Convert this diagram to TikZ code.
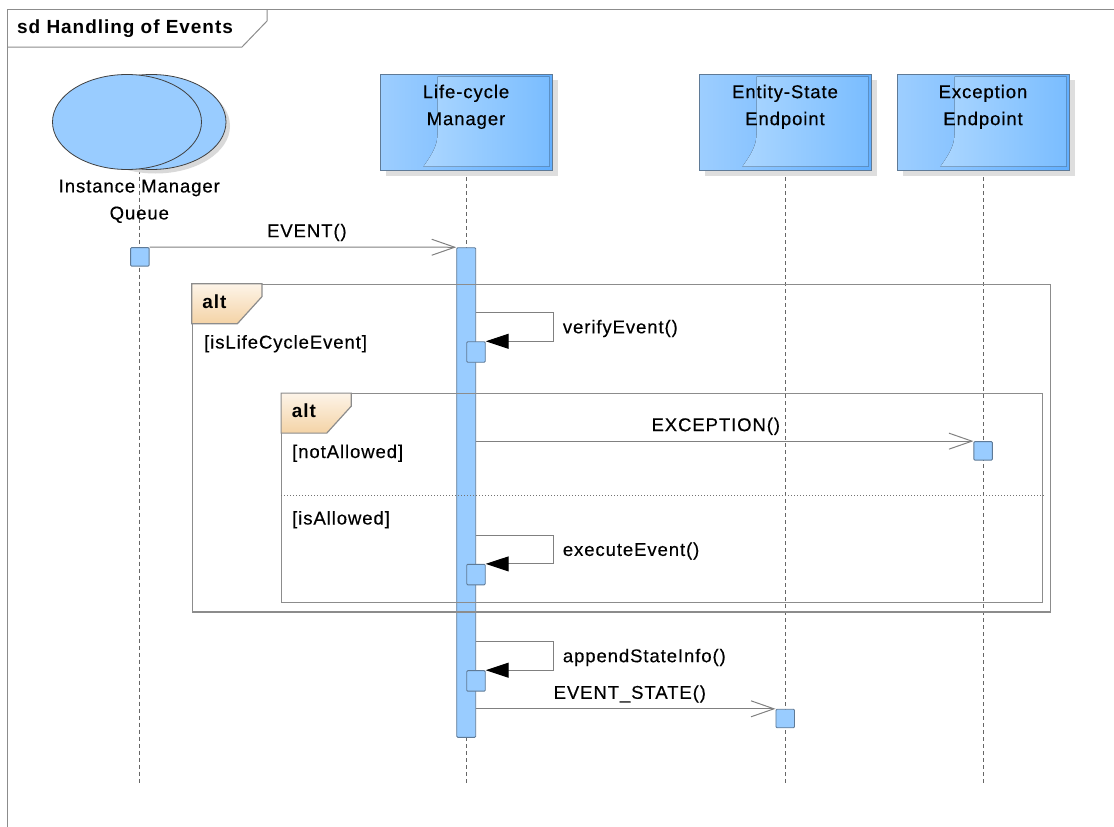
\documentclass[tikz,border=0pt]{standalone}
\usepackage{fontspec}
\setmainfont{Liberation Sans}[LetterSpace=5, UprightFeatures={FakeBold=0.35}]
\usetikzlibrary{arrows.meta,shapes.geometric,shadows}

\definecolor{actblue}{HTML}{99CCFF}
\definecolor{actline}{HTML}{5F7A96}
\definecolor{headleft}{HTML}{9DCEFF}
\definecolor{headright}{HTML}{62AFFF}
\definecolor{glassleft}{HTML}{ABD6FF}
\definecolor{glassright}{HTML}{7ABDFF}
\definecolor{altlight}{HTML}{FDF4E8}
\definecolor{altdark}{HTML}{F4D3A6}
\definecolor{linegray}{HTML}{808080}
\definecolor{framegray}{HTML}{8C8C8C}

\tikzset{
  lifehead/.style={draw=actline, line width=1pt, minimum width=172pt, minimum height=96pt,
    inner sep=0pt, left color=headleft, right color=headright,
    general shadow={fill=black!13, shadow xshift=6pt, shadow yshift=-6pt}},
  headtext/.style={anchor=north, align=center, inner sep=0pt, font=\fontsize{18.5}{27}\selectfont},
  queueell/.style={ellipse, draw=black!75, fill=actblue, line width=0.8pt, minimum width=149pt,
    minimum height=95pt, inner sep=0pt},
  lifeline/.style={draw=black!60, line width=0.8pt, dash pattern=on 4pt off 3pt},
  act/.style={draw=actline, fill=actblue, line width=0.9pt, minimum width=18.5pt,
    minimum height=18.5pt, inner sep=0pt, rounded corners=1pt},
  msg/.style={draw=linegray, line width=1pt, -{Straight Barb[length=23pt,width=16pt]}},
  selfmsg/.style={draw=linegray, line width=1pt, -{Triangle[length=23pt,width=15pt,color=black,fill=black]}},
  lbl/.style={inner sep=0pt, text height=13pt, text depth=4pt, font=\fontsize{18.5}{22}\selectfont},
  altframe/.style={draw=framegray, line width=1.2pt, inner sep=0pt},
  alttab/.style={draw=framegray, line width=1.2pt, top color=altlight, bottom color=altdark},
  alttext/.style={anchor=base west, inner sep=0pt, font=\bfseries\fontsize{19}{22}\selectfont},
  altsep/.style={draw=black!55, line width=0.8pt, dash pattern=on 1pt off 2pt},
  titleline/.style={draw=black!45, line width=1pt}
}

\begin{document}
\begin{tikzpicture}[x=1pt,y=-1pt]
\useasboundingbox (0,0) rectangle (1114,827);

%Diagram frame
\draw[titleline] (7.3,827) -- (7.3,9.3) -- (1114,9.3);
\draw[titleline] (7.3,47) -- (242,47) -- (267,21) -- (267,9.3);
\node[alttext] (title) at (17,34) {sd Handling of Events};

%Lifelines
\coordinate (lifeend) at (0,785);
\coordinate (imq) at (139.3,169.5);
\draw[lifeline] (imq) -- (imq |- lifeend);

%Queue
\node[queueell, general shadow={fill=black!15, shadow xshift=4pt, shadow yshift=-4pt}] (imqb) at (151.5,122) {};
\node[queueell] (imqf) at (127,122) {};
\node[headtext] (imq-t) at (139.3,179.5) {Instance Manager\\Queue};

%Heads
\foreach \nm/\xx/\toptxt/\bottxt in {lcm/466/Life-cycle/Manager, esep/785/Entity-State/Endpoint, exep/983/Exception/Endpoint}{
  \draw[lifeline] (\xx,170) -- (\xx,785);
  \node[lifehead] (\nm) at (\xx,122) {};
  \fill[left color=glassleft, right color=glassright]
    ([shift={(58,3)}]\nm.north west) -- ([shift={(-3,3)}]\nm.north east)
    -- ([shift={(-3,-4)}]\nm.south east) -- ([shift={(44,-4)}]\nm.south west)
    .. controls ([shift={(51,-14)}]\nm.south west) and ([shift={(58,-24)}]\nm.south west)
    .. ([shift={(58,-36)}]\nm.south west) -- cycle;
  \node[headtext] (\nm-t) at ([yshift=-11pt]\nm.north) {\toptxt\\\bottxt};
}

%Activation
\node[act, minimum width=19pt, minimum height=489.6pt] (bar) at (466.2,492.5) {};
\node[act] (qa) at (139.85,256.85) {};

%Fragments
\node[altframe, minimum width=858.4pt, minimum height=327.7pt] (altout) at (621.5,448.15) {};
\node[altframe, minimum width=761pt, minimum height=208.8pt] (altin) at (662.2,498.1) {};
\foreach \fr in {altout,altin}{
  \draw[alttab] (\fr.north west) -- ++(70.2,0) -- ++(0,13) -- ++(-24.5,27) -- ++(-45.7,0) -- cycle;
  \node[alttext] (\fr-t) at ([shift={(10.5,24.7)}]\fr.north west) {alt};
}
\coordinate (sepy) at (0,495.5);
\draw[altsep] (altin.west |- sepy) -- (altin.east |- sepy);
\node[lbl, anchor=west] (g1) at (204,344) {[isLifeCycleEvent]};
\node[lbl, anchor=west] (g2) at (292,453.5) {[notAllowed]};
\node[lbl, anchor=west] (g3) at (292,520) {[isAllowed]};

%Calls
\node[act] (ex) at (983.15,450.85) {};
\node[act] (es) at (785.2,718.5) {};
\node[act, minimum height=20.5pt] (sv) at (476,352) {};
\node[act, minimum height=20.5pt] (se) at (476,574.6) {};
\node[act, minimum height=20.5pt] (sa) at (476,680.9) {};

\draw[msg] (qa.north east) -- (bar.north west)
  node[lbl, midway, above=5.5pt, xshift=4pt] (m1) {EVENT()};
\draw[msg] (bar.east |- ex.north) -- (ex.north west)
  node[lbl, midway, above=5.5pt, xshift=-9pt] (m2) {EXCEPTION()};
\draw[msg] (bar.east |- es.north) -- (es.north west)
  node[lbl, midway, above=5.5pt, xshift=4pt] (m3) {EVENT\_STATE()};

\foreach \sq/\txt in {sv/verifyEvent(), se/executeEvent(), sa/appendStateInfo()}{
  \coordinate (\sq-top) at ([yshift=28.5pt]\sq.north east);
  \draw[selfmsg] (\sq-top -| bar.east) -| ([xshift=67.5pt]\sq.north east) -- (\sq.north east);
  \node[lbl, anchor=west] (\sq-l) at ([xshift=77pt,yshift=12.5pt]\sq.north east) {\txt};
}
\end{tikzpicture}
\end{document}
